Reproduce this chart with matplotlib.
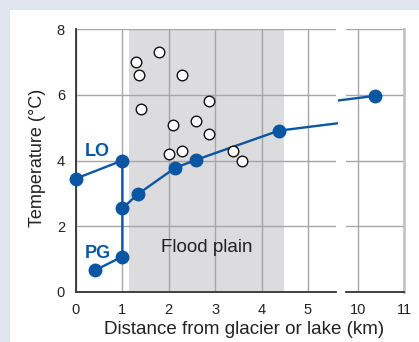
import matplotlib
matplotlib.use('Agg')
import matplotlib.pyplot as plt
from matplotlib.patches import Rectangle
from matplotlib.transforms import Bbox, TransformedBbox

plt.rcParams['font.family'] = ['Liberation Sans', 'DejaVu Sans']

# lake outlet / proglacial stream branches (km, deg C)
branch_x = [0, 1, 1, 0.42]
branch_y = [3.45, 4.0, 1.07, 0.66]

# main channel downstream
main_x = [1, 1.33, 2.13, 2.59, 4.375, 10.36]
main_y = [2.54, 2.97, 3.77, 4.02, 4.91, 5.97]

# floodplain side channels (open circles)
fp_x = [1.29, 1.36, 1.79, 2.28, 1.40, 2.09, 2.59, 2.87, 2.87, 2.00, 2.28, 3.38, 3.58]
fp_y = [7.00, 6.61, 7.31, 6.61, 5.57, 5.08, 5.20, 5.81, 4.81, 4.20, 4.29, 4.29, 3.98]

floodplain = (1.14, 4.48)

blue = '#0a56a2'
grid_c = '#a6a6a6'
spine_c = '#333333'

W, H = 419, 342
fig = plt.figure(figsize=(W / 100, H / 100), dpi=100, facecolor='#dfe4ee')
fig.patches.append(Rectangle((10 / W, 0), 1 - 10 / W, 1 - 10 / H,
                             transform=fig.transFigure, facecolor='white',
                             edgecolor='none', zorder=-1))

ax = fig.add_axes([76 / W, 1 - 291.7 / H, (335.7 - 76) / W, (291.7 - 29.3) / H])
ax2 = fig.add_axes([345.7 / W, 1 - 291.7 / H, (404.3 - 345.7) / W, (291.7 - 29.3) / H])

for a in (ax, ax2):
    a.set_facecolor('none')
    a.set_ylim(0, 8)
    a.set_yticks([0, 2, 4, 6, 8])
    a.grid(True, color=grid_c, lw=1.0)
    a.set_axisbelow(True)
    a.tick_params(length=0, pad=8, labelsize=10.5, colors='#222222')
    a.spines['top'].set_visible(False)
    a.spines['bottom'].set_color(spine_c)
    a.spines['bottom'].set_linewidth(1.3)

ax.set_xlim(0, 5.6)
ax.set_xticks([0, 1, 2, 3, 4, 5])
ax.spines['right'].set_visible(False)
ax.spines['left'].set_color(spine_c)
ax.spines['left'].set_linewidth(1.3)

ax2.set_xlim(9.73, 11)
ax2.set_xticks([10, 11])
ax2.tick_params(labelleft=False)
ax2.spines['left'].set_visible(False)
ax2.spines['right'].set_color('#c4c4c4')
ax2.spines['right'].set_linewidth(2)

ax.axvspan(*floodplain, color='#dcdcde', lw=0, zorder=0)
ax.text(sum(floodplain) / 2 + 0.0, 1.22, 'Flood plain', ha='center', va='baseline',
        fontsize=13.5, color='#222222')

ax.plot(branch_x, branch_y, '-o', color=blue, lw=1.7, ms=9, clip_on=False, zorder=3)
l1, = ax.plot(main_x, main_y, '-o', color=blue, lw=1.7, ms=9, zorder=3)
l1.set_clip_path(None)
l1.set_clip_box(TransformedBbox(Bbox([[-0.5, -0.5], [5.65, 8.5]]), ax.transData))
l2, = ax2.plot(main_x, main_y, '-o', color=blue, lw=1.7, ms=9, zorder=3)
l2.set_clip_path(None)
l2.set_clip_box(TransformedBbox(Bbox([[9.56, -0.5], [11.5, 8.5]]), ax2.transData))

ax.scatter(fp_x, fp_y, s=58, facecolor='white', edgecolor='#111111', lw=1.0, zorder=4)

ax.text(0.19, 4.27, 'LO', color=blue, fontsize=13, fontweight='bold', va='center')
ax.text(0.19, 1.15, 'PG', color=blue, fontsize=13, fontweight='bold', va='center')

fig.text(244 / W, 1 - 334 / H, 'Distance from glacier or lake (km)', ha='center',
         va='baseline', fontsize=13.5, color='#222222')
fig.text(38 / W, 1 - 158 / H, 'Temperature (\u00b0C)', rotation=90, ha='center',
         va='center', fontsize=13, color='#222222')

fig.savefig('out.png', dpi=100, facecolor=fig.get_facecolor())
